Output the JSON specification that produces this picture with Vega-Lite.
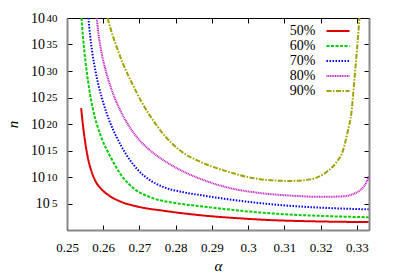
{
  "$schema": "https://vega.github.io/schema/vega-lite/v6.json",
  "width": 302,
  "height": 212,
  "autosize": "none",
  "padding": {"left": 67, "top": 18, "right": 30, "bottom": 49},
  "background": "white",
  "config": {"view": {"stroke": "black", "strokeWidth": 1}, "font": "Liberation Serif"},
  "data": {"values": [
    {"series": "50%", "alpha": 0.2539, "n": 1e23},
    {"series": "50%", "alpha": 0.2545, "n": 1.585e19},
    {"series": "50%", "alpha": 0.2551, "n": 1.585e16},
    {"series": "50%", "alpha": 0.2558, "n": 3.162e13},
    {"series": "50%", "alpha": 0.2566, "n": 2.512e11},
    {"series": "50%", "alpha": 0.2578, "n": 1.995e9},
    {"series": "50%", "alpha": 0.2595, "n": 5.012e7},
    {"series": "50%", "alpha": 0.2614, "n": 3.981e6},
    {"series": "50%", "alpha": 0.2650, "n": 1.995e5},
    {"series": "50%", "alpha": 0.2696, "n": 2.512e4},
    {"series": "50%", "alpha": 0.2770, "n": 3981},
    {"series": "50%", "alpha": 0.2866, "n": 631},
    {"series": "50%", "alpha": 0.2977, "n": 158.5},
    {"series": "50%", "alpha": 0.3068, "n": 70.8},
    {"series": "50%", "alpha": 0.3170, "n": 44.7},
    {"series": "50%", "alpha": 0.3250, "n": 35.5},
    {"series": "50%", "alpha": 0.3332, "n": 31.6},
    {"series": "60%", "alpha": 0.2540, "n": 1e40},
    {"series": "60%", "alpha": 0.2544, "n": 3.162e36},
    {"series": "60%", "alpha": 0.2549, "n": 1e33},
    {"series": "60%", "alpha": 0.2555, "n": 3.981e29},
    {"series": "60%", "alpha": 0.2562, "n": 1.995e26},
    {"series": "60%", "alpha": 0.2571, "n": 1e23},
    {"series": "60%", "alpha": 0.2583, "n": 6.31e19},
    {"series": "60%", "alpha": 0.2598, "n": 7.943e16},
    {"series": "60%", "alpha": 0.2620, "n": 6.31e13},
    {"series": "60%", "alpha": 0.2650, "n": 1.995e10},
    {"series": "60%", "alpha": 0.2687, "n": 5.012e7},
    {"series": "60%", "alpha": 0.2733, "n": 1.259e6},
    {"series": "60%", "alpha": 0.2798, "n": 1.259e5},
    {"series": "60%", "alpha": 0.2866, "n": 3.162e4},
    {"series": "60%", "alpha": 0.2949, "n": 7079},
    {"series": "60%", "alpha": 0.3032, "n": 1995},
    {"series": "60%", "alpha": 0.3134, "n": 708},
    {"series": "60%", "alpha": 0.3225, "n": 398},
    {"series": "60%", "alpha": 0.3332, "n": 251},
    {"series": "70%", "alpha": 0.2559, "n": 1e40},
    {"series": "70%", "alpha": 0.2564, "n": 3.981e36},
    {"series": "70%", "alpha": 0.2570, "n": 2.512e33},
    {"series": "70%", "alpha": 0.2578, "n": 1.585e30},
    {"series": "70%", "alpha": 0.2588, "n": 1e27},
    {"series": "70%", "alpha": 0.2601, "n": 6.31e23},
    {"series": "70%", "alpha": 0.2617, "n": 3.981e20},
    {"series": "70%", "alpha": 0.2637, "n": 3.162e17},
    {"series": "70%", "alpha": 0.2662, "n": 2.512e14},
    {"series": "70%", "alpha": 0.2692, "n": 3.981e11},
    {"series": "70%", "alpha": 0.2729, "n": 2.512e9},
    {"series": "70%", "alpha": 0.2770, "n": 1e8},
    {"series": "70%", "alpha": 0.2816, "n": 1.585e7},
    {"series": "70%", "alpha": 0.2866, "n": 3.981e6},
    {"series": "70%", "alpha": 0.2944, "n": 6.31e5},
    {"series": "70%", "alpha": 0.3036, "n": 1.122e5},
    {"series": "70%", "alpha": 0.3128, "n": 3.162e4},
    {"series": "70%", "alpha": 0.3220, "n": 1.413e4},
    {"series": "70%", "alpha": 0.3332, "n": 7943},
    {"series": "80%", "alpha": 0.2582, "n": 1e40},
    {"series": "80%", "alpha": 0.2587, "n": 7.943e36},
    {"series": "80%", "alpha": 0.2594, "n": 7.943e33},
    {"series": "80%", "alpha": 0.2604, "n": 6.31e30},
    {"series": "80%", "alpha": 0.2617, "n": 5.012e27},
    {"series": "80%", "alpha": 0.2633, "n": 5.012e24},
    {"series": "80%", "alpha": 0.2652, "n": 7.943e21},
    {"series": "80%", "alpha": 0.2675, "n": 1.585e19},
    {"series": "80%", "alpha": 0.2702, "n": 6.31e16},
    {"series": "80%", "alpha": 0.2735, "n": 5.012e14},
    {"series": "80%", "alpha": 0.2770, "n": 1e13},
    {"series": "80%", "alpha": 0.2816, "n": 1.585e11},
    {"series": "80%", "alpha": 0.2866, "n": 5.012e9},
    {"series": "80%", "alpha": 0.2944, "n": 1e8},
    {"series": "80%", "alpha": 0.3036, "n": 8.913e6},
    {"series": "80%", "alpha": 0.3128, "n": 2.818e6},
    {"series": "80%", "alpha": 0.3200, "n": 1.778e6},
    {"series": "80%", "alpha": 0.3262, "n": 2.239e6},
    {"series": "80%", "alpha": 0.3290, "n": 6.31e6},
    {"series": "80%", "alpha": 0.3309, "n": 3.162e7},
    {"series": "80%", "alpha": 0.3320, "n": 1.995e8},
    {"series": "80%", "alpha": 0.3327, "n": 1.259e9},
    {"series": "80%", "alpha": 0.3333, "n": 1.259e10},
    {"series": "90%", "alpha": 0.2612, "n": 1e40},
    {"series": "90%", "alpha": 0.2623, "n": 2.239e37},
    {"series": "90%", "alpha": 0.2637, "n": 3.548e34},
    {"series": "90%", "alpha": 0.2655, "n": 1.995e31},
    {"series": "90%", "alpha": 0.2679, "n": 5.623e27},
    {"series": "90%", "alpha": 0.2706, "n": 1.413e24},
    {"series": "90%", "alpha": 0.2732, "n": 1.778e21},
    {"series": "90%", "alpha": 0.2770, "n": 5.623e17},
    {"series": "90%", "alpha": 0.2817, "n": 5.623e14},
    {"series": "90%", "alpha": 0.2867, "n": 7.943e12},
    {"series": "90%", "alpha": 0.2944, "n": 1e11},
    {"series": "90%", "alpha": 0.3037, "n": 3.548e9},
    {"series": "90%", "alpha": 0.3115, "n": 1.778e9},
    {"series": "90%", "alpha": 0.3171, "n": 3.548e9},
    {"series": "90%", "alpha": 0.3217, "n": 1e11},
    {"series": "90%", "alpha": 0.3242, "n": 4.467e12},
    {"series": "90%", "alpha": 0.3262, "n": 1.259e15},
    {"series": "90%", "alpha": 0.3275, "n": 5.012e18},
    {"series": "90%", "alpha": 0.3285, "n": 1.778e22},
    {"series": "90%", "alpha": 0.3293, "n": 1.995e28},
    {"series": "90%", "alpha": 0.3300, "n": 8.913e33},
    {"series": "90%", "alpha": 0.3307, "n": 1e40}
  ]},
  "layer": [
    {
      "mark": {"type": "line", "interpolate": "monotone", "strokeWidth": 2, "clip": true},
      "encoding": {
        "x": {
          "field": "alpha", "type": "quantitative",
          "scale": {"domain": [0.25, 0.33333], "nice": false, "zero": false},
          "title": "α",
          "axis": {
            "orient": "bottom",
            "values": [0.25, 0.26, 0.27, 0.28, 0.29, 0.3, 0.31, 0.32, 0.33],
            "format": ".2~f", "grid": false, "labelFlush": false,
            "tickSize": -5, "tickColor": "black", "tickWidth": 1,
            "domainColor": "#888888", "domainWidth": 2,
            "labelFont": "Liberation Serif", "labelFontSize": 13, "labelColor": "black", "labelPadding": 16,
            "titleFont": "Liberation Serif", "titleFontStyle": "italic", "titleFontWeight": "normal", "titleFontSize": 15, "titleColor": "black", "titlePadding": 4
          }
        },
        "y": {
          "field": "n", "type": "quantitative",
          "scale": {"type": "log", "domain": [1, 1e40], "nice": false},
          "title": "n",
          "axis": {
            "orient": "left",
            "values": [1e5, 1e10, 1e15, 1e20, 1e25, 1e30, 1e35, 1e40],
            "labelExpr": "'10'",
            "labelPadding": {"condition": {"test": "datum.value >= 1e10", "value": 27.5}, "value": 22.7},
            "grid": false, "labelFlush": false,
            "tickSize": -5, "tickColor": "black", "tickWidth": 1,
            "domainColor": "#888888", "domainWidth": 2,
            "labelFont": "Liberation Serif", "labelFontSize": 14, "labelColor": "black",
            "titleFont": "Liberation Serif", "titleFontStyle": "italic", "titleFontWeight": "normal", "titleFontSize": 15, "titleColor": "black", "titlePadding": 10
          }
        },
        "color": {
          "field": "series", "type": "nominal", "title": null,
          "scale": {"domain": ["50%", "60%", "70%", "80%", "90%"], "range": ["#e00000", "#00cc00", "#0000ee", "#c020c0", "#a0a000"]},
          "legend": {
            "orient": "none", "legendX": 264, "legendY": 6,
            "symbolType": "M-2,0L2,0", "symbolSize": 132, "symbolStrokeWidth": 2,
            "labelAlign": "right", "labelOffset": -29.5,
            "labelFont": "Liberation Serif", "labelFontSize": 14, "labelColor": "black",
            "rowPadding": 1, "padding": 0
          }
        },
        "strokeDash": {
          "field": "series", "type": "nominal", "title": null,
          "scale": {"domain": ["50%", "60%", "70%", "80%", "90%"], "range": [[1, 0], [3, 1.5], [1.5, 1.5], [1, 0.7], [5, 1.5, 1.5, 1.5]]},
          "legend": {
            "orient": "none", "legendX": 264, "legendY": 6,
            "symbolType": "M-2,0L2,0", "symbolSize": 132, "symbolStrokeWidth": 2,
            "labelAlign": "right", "labelOffset": -29.5,
            "labelFont": "Liberation Serif", "labelFontSize": 14, "labelColor": "black",
            "rowPadding": 1, "padding": 0
          }
        }
      }
    },
    {
      "mark": {"type": "line", "opacity": 0},
      "encoding": {
        "x": {
          "field": "alpha", "type": "quantitative",
          "scale": {"domain": [0.25, 0.33333], "nice": false, "zero": false},
          "axis": {
            "orient": "top", "title": null, "labels": false, "grid": false,
            "values": [0.25, 0.26, 0.27, 0.28, 0.29, 0.3, 0.31, 0.32, 0.33],
            "tickSize": -5, "tickColor": "black", "domainColor": "black", "domainWidth": 1
          }
        },
        "y": {
          "field": "n", "type": "quantitative",
          "scale": {"type": "log", "domain": [1, 1e40], "nice": false},
          "axis": {
            "orient": "right", "title": null, "labels": false, "grid": false,
            "values": [1e5, 1e10, 1e15, 1e20, 1e25, 1e30, 1e35, 1e40],
            "tickSize": -5, "tickColor": "black", "domainColor": "#888888", "domainWidth": 2
          }
        },
        "detail": {"field": "series", "type": "nominal"}
      }
    },
    {
      "mark": {"type": "line", "opacity": 0},
      "encoding": {
        "x": {
          "field": "alpha", "type": "quantitative",
          "scale": {"domain": [0.25, 0.33333], "nice": false, "zero": false},
          "axis": null
        },
        "y": {
          "field": "n", "type": "quantitative",
          "scale": {"type": "log", "domain": [1, 1e40], "nice": false},
          "axis": {
            "orient": "left", "title": null, "grid": false, "domain": false, "ticks": false,
            "values": [1e5, 1e10, 1e15, 1e20, 1e25, 1e30, 1e35, 1e40],
            "labelExpr": "format(round(log(datum.value)/LN10),'d')",
            "labelFont": "Liberation Serif", "labelFontSize": 11, "labelColor": "black",
            "labelPadding": 10, "labelDy": -4.5, "labelFlush": false
          }
        },
        "detail": {"field": "series", "type": "nominal"}
      }
    }
  ],
  "resolve": {"axis": {"x": "independent", "y": "independent"}}
}
